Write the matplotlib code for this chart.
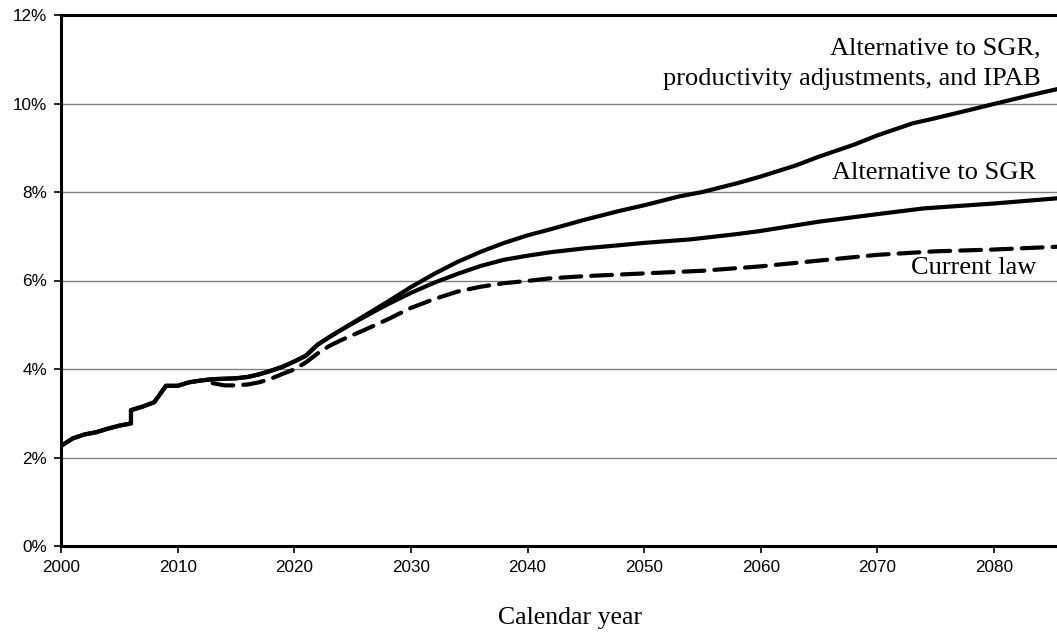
import matplotlib
matplotlib.use("Agg")
import matplotlib.pyplot as plt
from matplotlib.ticker import FuncFormatter

# Shared history (percent)
hist_years = [2000, 2001, 2002, 2003, 2004, 2005, 2006, 2006, 2007, 2008, 2009, 2010, 2011, 2012, 2013]
hist_vals = [2.26, 2.43, 2.52, 2.57, 2.65, 2.72, 2.77, 3.07, 3.15, 3.25, 3.62, 3.62, 3.70, 3.74, 3.77]

# Alternative to SGR, productivity adjustments, and IPAB
upper_years = [2014, 2015, 2016, 2017, 2018, 2019, 2020, 2021, 2022, 2023, 2024, 2025, 2027, 2028,
               2030, 2032, 2034, 2036, 2038, 2040, 2042, 2045, 2048, 2050, 2053, 2055, 2058, 2060,
               2063, 2065, 2068, 2070, 2073, 2075, 2078, 2080, 2083, 2086]
upper_vals = [3.78, 3.79, 3.82, 3.88, 3.96, 4.05, 4.17, 4.30, 4.55, 4.72, 4.88, 5.04, 5.36, 5.52,
              5.85, 6.15, 6.42, 6.65, 6.85, 7.02, 7.16, 7.38, 7.58, 7.70, 7.90, 8.00, 8.20, 8.35,
              8.60, 8.80, 9.07, 9.28, 9.55, 9.67, 9.86, 9.99, 10.18, 10.36]

# Alternative to SGR
mid_years = [2014, 2015, 2016, 2017, 2018, 2019, 2020, 2021, 2022, 2023, 2024, 2025, 2027, 2028,
             2030, 2032, 2034, 2036, 2038, 2040, 2042, 2045, 2048, 2050, 2054, 2058, 2060, 2065,
             2070, 2074, 2080, 2086]
mid_vals = [3.78, 3.79, 3.82, 3.88, 3.96, 4.05, 4.17, 4.30, 4.55, 4.72, 4.88, 5.03, 5.32, 5.46,
            5.72, 5.95, 6.15, 6.33, 6.47, 6.56, 6.64, 6.73, 6.80, 6.85, 6.93, 7.05, 7.12, 7.33,
            7.50, 7.63, 7.74, 7.87]

# Current law
cur_years = [2013, 2014, 2015, 2016, 2017, 2018, 2019, 2020, 2021, 2022, 2023, 2024, 2026, 2028,
             2030, 2032, 2034, 2036, 2038, 2040, 2042, 2045, 2050, 2055, 2060, 2065, 2070, 2075,
             2080, 2086]
cur_vals = [3.68, 3.63, 3.63, 3.65, 3.70, 3.78, 3.89, 3.99, 4.15, 4.35, 4.52, 4.65, 4.88, 5.12,
            5.38, 5.58, 5.75, 5.86, 5.94, 5.99, 6.05, 6.10, 6.16, 6.22, 6.32, 6.45, 6.58, 6.66,
            6.70, 6.77]

y_ticks = [0, 2, 4, 6, 8, 10, 12]
x_ticks = [2000, 2010, 2020, 2030, 2040, 2050, 2060, 2070, 2080]

plt.rcParams["font.family"] = ["Liberation Sans", "DejaVu Sans"]

fig = plt.figure(figsize=(10.57, 6.33), dpi=100)
ax = fig.add_axes([61 / 1057, 1 - 546 / 633, 1 - 61 / 1057, (546 - 15) / 633])

for v in y_ticks[1:-1]:
    ax.axhline(v, color="#808080", lw=1.0, zorder=1)

lw = 3.0
ax.plot(hist_years + upper_years, hist_vals + upper_vals, color="black", lw=lw,
        solid_joinstyle="round", zorder=3)
ax.plot(hist_years + mid_years, hist_vals + mid_vals, color="black", lw=lw,
        solid_joinstyle="round", zorder=3)
ax.plot(cur_years, cur_vals, color="black", lw=lw, linestyle=(0, (5, 2.4)),
        dash_capstyle="round", zorder=3)

ax.set_xlim(2000, 2085.4)
ax.set_ylim(0, 12)
ax.set_xticks(x_ticks)
ax.set_yticks(y_ticks)
ax.yaxis.set_major_formatter(FuncFormatter(lambda v, p: f"{v:.0f}%"))
ax.tick_params(axis="both", direction="out", length=5, width=1.2, color="black",
               labelsize=12.3)
ax.tick_params(axis="x", pad=5)
ax.tick_params(axis="y", pad=5)

ax.spines["right"].set_visible(False)
for s in ["left", "top", "bottom"]:
    ax.spines[s].set_linewidth(2.2)
ax.spines["top"].set_zorder(4)

serif = "Liberation Serif"
fs = 19
ax.text(2084.0, 11.10, "Alternative to SGR,", ha="right", va="baseline", fontsize=fs, family=serif)
ax.text(2084.0, 10.42, "productivity adjustments, and IPAB", ha="right", va="baseline",
        fontsize=fs, family=serif)
ax.text(2083.6, 8.29, "Alternative to SGR", ha="right", va="baseline", fontsize=fs, family=serif)
ax.text(2083.6, 6.14, "Current law", ha="right", va="baseline", fontsize=fs, family=serif)

fig.text(570 / 1057, 1 - 618 / 633, "Calendar year", ha="center", va="center",
         fontsize=18.5, family=serif)

fig.savefig("out.png", dpi=100)
